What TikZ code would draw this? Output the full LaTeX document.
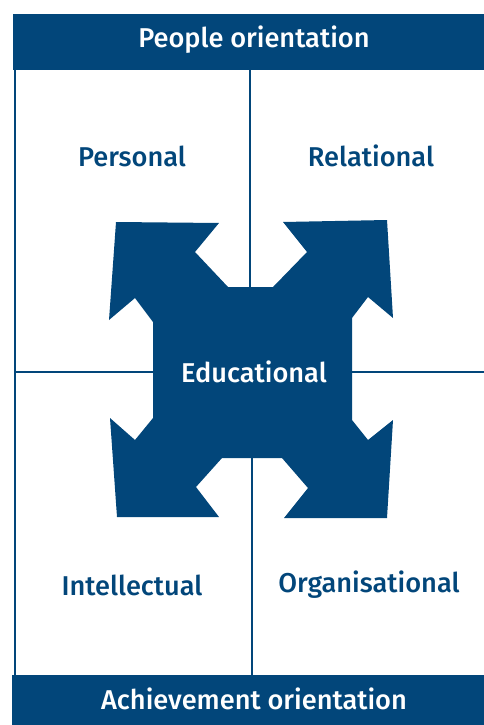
\documentclass[tikz,border=0pt]{standalone}
\usepackage{fontspec}
\setmainfont{Fira Sans}[UprightFont=* Medium]
\definecolor{navy}{RGB}{2,70,122}
\begin{document}
\begin{tikzpicture}[x=1pt,y=-1pt,
  wlbl/.style={text=white,font=\fontsize{27.2}{31}\selectfont},
  lbl/.style={text=navy,font=\fontsize{27.2}{31}\selectfont},
  rule/.style={draw=navy,line width=1.8pt}]
\useasboundingbox (0,0) rectangle (484,725);
% bars
\fill[navy] (13,14) rectangle (484,70);
\fill[navy] (12,675) rectangle (484,725);
\node[wlbl] (top) at (254,40) {People orientation};
\node[wlbl] (bot) at (254,699) {Achievement orientation};
% coordinates for rules
\coordinate (lt) at (15,70);
\coordinate (lb) at (15,675);
\coordinate (mt) at (250,70);
\coordinate (mu) at (250,288);
\coordinate (md) at (252,457);
\coordinate (mb) at (252,675);
\coordinate (hl) at (15,372);
\coordinate (hcl) at (154,372);
\coordinate (hcr) at (351,372);
\coordinate (hr) at (484,372);
\draw[rule] (lt) -- (lb);
\draw[rule] (mt) -- (mu);
\draw[rule] (md) -- (mb);
\draw[rule] (hl) -- (hcl);
\draw[rule] (hcr) -- (hr);
% central shape
\fill[navy] (116,222) -- (219,223) -- (195,252) -- (228,287) -- (273,287)
  -- (307,252) -- (283,222) -- (387,220) -- (393,318) -- (368,297) -- (352,318)
  -- (352,420) -- (368,440) -- (393,420) -- (387,518) -- (284,518) -- (308,488)
  -- (282,458) -- (222,458) -- (196,487) -- (219,517) -- (117,517) -- (110,418)
  -- (135,440) -- (153,418) -- (153,322) -- (135,298) -- (109,320) -- cycle;
\node[wlbl] (edu) at (254,372) {Educational};
% quadrant labels
\node[lbl] (pers) at (132,156) {Personal};
\node[lbl] (rel) at (371,156) {Relational};
\node[lbl] (intel) at (132,585) {Intellectual};
\node[lbl] (org) at (369,585) {Organisational};
\end{tikzpicture}
\end{document}
